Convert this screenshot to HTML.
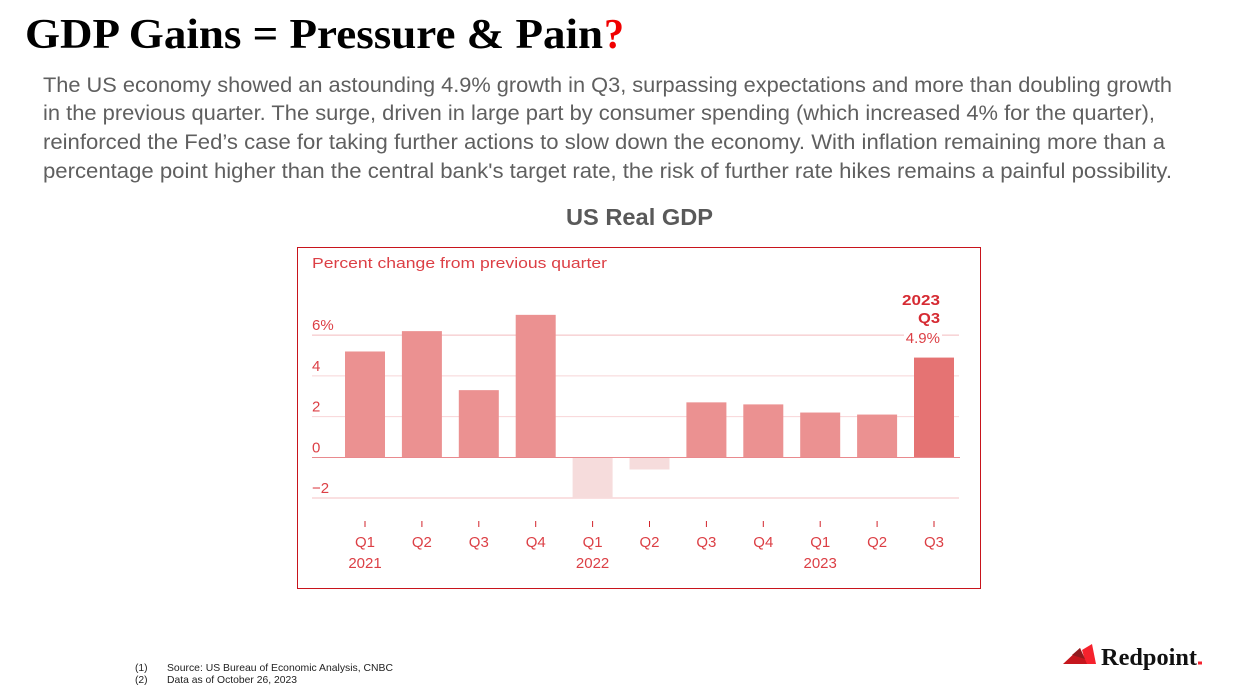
<!DOCTYPE html>
<html lang="en">
<head>
<meta charset="utf-8">
<title>GDP Gains = Pressure &amp; Pain?</title>
<style>
html,body{margin:0;padding:0;background:#fff;width:1244px;height:697px;overflow:hidden}
svg{display:block}
.body-line{font:21px "Liberation Sans",sans-serif;fill:#5f5f5f}
.chart-text{font:15px "Liberation Sans",sans-serif;fill:#dc3f45}
</style>
</head>
<body>
<svg id="slide" xmlns="http://www.w3.org/2000/svg" width="1244" height="697" viewBox="0 0 1244 697">
  <text x="25" y="48" font-family="'Liberation Serif',serif" font-weight="700" font-size="42" fill="#000" textLength="578" lengthAdjust="spacingAndGlyphs">GDP Gains = Pressure &amp; Pain</text>
  <text x="604" y="48" font-family="'Liberation Serif',serif" font-weight="700" font-size="42" fill="#f00000" textLength="20" lengthAdjust="spacingAndGlyphs">?</text>

  <text class="body-line" x="43" y="92" textLength="1129" lengthAdjust="spacingAndGlyphs">The US economy showed an astounding 4.9% growth in Q3, surpassing expectations and more than doubling growth</text>
  <text class="body-line" x="43" y="120" textLength="1112" lengthAdjust="spacingAndGlyphs">in the previous quarter. The surge, driven in large part by consumer spending (which increased 4% for the quarter),</text>
  <text class="body-line" x="43" y="149" textLength="1122" lengthAdjust="spacingAndGlyphs">reinforced the Fed’s case for taking further actions to slow down the economy. With inflation remaining more than a</text>
  <text class="body-line" x="43" y="178" textLength="1129" lengthAdjust="spacingAndGlyphs">percentage point higher than the central bank's target rate, the risk of further rate hikes remains a painful possibility.</text>

  <text x="566" y="225" font-family="'Liberation Sans',sans-serif" font-weight="700" font-size="23" fill="#595959" textLength="147" lengthAdjust="spacingAndGlyphs">US Real GDP</text>

  <rect x="297.5" y="247.5" width="683" height="341" fill="#fff" stroke="#c8141c" stroke-width="1"/>
  <text class="chart-text" x="312" y="268" textLength="295" lengthAdjust="spacingAndGlyphs">Percent change from previous quarter</text>

  <g id="gridlines"></g>
  <g id="bars"></g>
  <line x1="312" x2="960" y1="457.5" y2="457.5" stroke="#e98a8e" stroke-width="1"/>
  <g id="y-labels"></g>
  <g id="x-axis"></g>

  <text class="chart-text" x="902" y="305" textLength="38" lengthAdjust="spacingAndGlyphs" style="font-weight:700;fill:#d62b33">2023</text>
  <text class="chart-text" x="918" y="323" textLength="22" lengthAdjust="spacingAndGlyphs" style="font-weight:700;fill:#d62b33">Q3</text>
  <rect x="904" y="330" width="38" height="15" fill="#fff"/>
  <text class="chart-text" x="940" y="343" text-anchor="end">4.9%</text>

  <text x="135" y="671" font-family="'Liberation Sans',sans-serif" font-size="10.3" fill="#222">(1)</text>
  <text x="167" y="671" font-family="'Liberation Sans',sans-serif" font-size="10.3" fill="#222" textLength="226" lengthAdjust="spacingAndGlyphs">Source: US Bureau of Economic Analysis, CNBC</text>
  <text x="135" y="683" font-family="'Liberation Sans',sans-serif" font-size="10.3" fill="#222">(2)</text>
  <text x="167" y="683" font-family="'Liberation Sans',sans-serif" font-size="10.3" fill="#222" textLength="130" lengthAdjust="spacingAndGlyphs">Data as of October 26, 2023</text>

  <g>
    <polygon points="1082,650 1092,644 1096,664 1086,664" fill="#f5222d"/>
    <polygon points="1063,664 1080,648 1087,664" fill="#c5161d"/>
    <polygon points="1072,655 1080,648 1085,659" fill="#8f1a1e"/>
    <text x="1101" y="665" font-family="'Liberation Serif',serif" font-weight="700" font-size="24" fill="#111" textLength="96" lengthAdjust="spacingAndGlyphs">Redpoint</text>
    <rect x="1198" y="661.5" width="4" height="3" fill="#f5212d"/>
  </g>
</svg>
<script>
const quarters = ["Q1","Q2","Q3","Q4","Q1","Q2","Q3","Q4","Q1","Q2","Q3"];
const yearLabels = ["2021","","","","2022","","","","2023","",""];
const gdpChange = [5.2,6.2,3.3,7.0,-2.0,-0.6,2.7,2.6,2.2,2.1,4.9];
const yTicks = [6,4,2,0,-2];
const yTickLabels = ["6%","4","2","0","−2"];
const highlightIndex = 10;

const NS = "http://www.w3.org/2000/svg";
const yZero = 457.3, unit = 20.35, xFirst = 365, xStep = 56.9, barWidth = 40;
function yScale(v){ return yZero - v * unit; }
function xScale(i){ return xFirst + i * xStep; }
function make(tag, attrs, parent, text){
  const el = document.createElementNS(NS, tag);
  for (const k in attrs) el.setAttribute(k, attrs[k]);
  if (text !== undefined) el.textContent = text;
  parent.appendChild(el);
  return el;
}
const gridGroup = document.getElementById("gridlines");
const yLabelGroup = document.getElementById("y-labels");
yTicks.forEach(function(t, i){
  if (t !== 0) {
    const heavy = (t === 6 || t === -2);
    const ln = make("line", {x1:312, x2:959, y1:yScale(t), y2:yScale(t), stroke:"#f8d5d7", "stroke-width":heavy ? 1.6 : 1}, gridGroup);
    
    
  }
  const lb = make("text", {"class":"chart-text", x:312, y:yScale(t) - 5}, yLabelGroup, yTickLabels[i]);
  
  
});
const barGroup = document.getElementById("bars");
gdpChange.forEach(function(v, i){
  const top = Math.min(yScale(v), yZero);
  const fill = i === highlightIndex ? "#e57373" : (v < 0 ? "#f6dcdc" : "#eb9191");
  const b = make("rect", {x:xScale(i) - barWidth / 2, y:top, width:barWidth, height:Math.abs(v) * unit, fill:fill}, barGroup);
  
  
});
const xGroup = document.getElementById("x-axis");
quarters.forEach(function(q, i){
  const x = xScale(i);
  const tk = make("line", {x1:x, x2:x, y1:521, y2:527, stroke:"#d2232b", "stroke-width":1}, xGroup);
  
  
  const lb = make("text", {"class":"chart-text", x:x, y:547, "text-anchor":"middle"}, xGroup, q);
  
  
  if (yearLabels[i]) {
    const yr = make("text", {"class":"chart-text", x:x, y:568, "text-anchor":"middle"}, xGroup, yearLabels[i]);
    
    
  }
});
</script>
</body>
</html>
